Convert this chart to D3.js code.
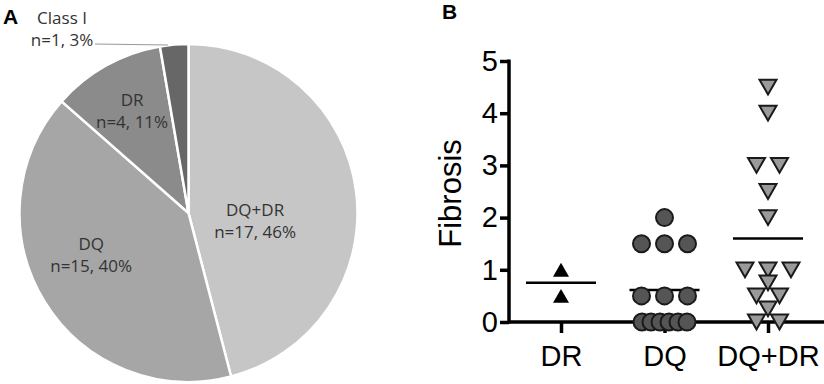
<!DOCTYPE html>
<html lang="en">
<head>
<meta charset="UTF-8">
<title>Fibrosis by DSA class</title>
<style>
  body { margin: 0; background: #fff; }
  svg { display: block; }
  .pie-label { font-family: "Open Sans", sans-serif; font-size: 17px; fill: #333; }
  .panel { font-family: "Liberation Sans", Arial, sans-serif; font-weight: bold; font-size: 21px; }
  .axis text { font-family: "Liberation Sans", Arial, sans-serif; font-size: 29px; fill: #000; }
  .axis path, .axis line { stroke: #000; stroke-width: 3.5; }
</style>
</head>
<body>
<svg></svg>
<script src="https://cdn.jsdelivr.net/npm/d3@7"></script>
<script>

// ---- panel A data
const pieNames = ["DQ+DR", "DQ", "DR", "Class I"];
const pieCounts = [17, 15, 4, 1];
const piePct = ["46%", "40%", "11%", "3%"];
const pieColors = ["#c6c6c6", "#a6a6a6", "#8b8b8b", "#676767"];

// ---- panel B data
const groups = ["DR", "DQ", "DQ+DR"];
const fibDR = [1, 0.5];
const fibDQ = [2, 1.5, 1.5, 1.5, 0.5, 0.5, 0.5, 0, 0, 0, 0, 0, 0];
const fibDQDR = [4.5, 4, 3, 3, 2.5, 2, 1, 1, 1, 0.75, 0.5, 0.5, 0.25, 0, 0];
const yTicks = [0, 1, 2, 3, 4, 5];

const W = 824, H = 384;
const svg = d3.select("svg").attr("width", W).attr("height", H);

// ---------------- A: pie
svg.append("text").attr("class", "panel").attr("x", 3).attr("y", 24).text("A");

const cx = 188.5, cy = 213, R = 169;
const pie = d3.pie().sort(null).value(d => d)(pieCounts);
const arc = d3.arc().innerRadius(0).outerRadius(R);
const gp = svg.append("g").attr("transform", `translate(${cx},${cy})`);

gp.selectAll("path")
  .data(pie)
  .enter().append("path")
    .attr("d", arc)
    .attr("fill", (d, i) => pieColors[i])
    .attr("stroke", "#fff")
    .attr("stroke-width", 2.5);

// label placement (inside slices, Class I sits outside with a leader)
const labelArc = d3.arc().innerRadius(R * 0.6).outerRadius(R * 0.6);
const nudge = {
  "DQ+DR": [-34, 16],
  "DQ": [-11, -16],
  "DR": [-7, -18],
};
pie.forEach((p, i) => {
  const name = pieNames[i];
  let x, y;
  if (nudge[name]) {
    const c = labelArc.centroid(p);
    x = c[0] + nudge[name][0];
    y = c[1] + nudge[name][1];
  } else {
    // outside label with a leader line to the thin slice
    const edge = d3.arc().innerRadius(R).outerRadius(R).startAngle(p.startAngle).endAngle(p.startAngle).centroid();
    x = 62 - cx;
    y = 24 - cy;
    gp.append("line")
      .attr("x1", 95 - cx).attr("y1", 44 - cy)
      .attr("x2", edge[0] + 8).attr("y2", 45 - cy)
      .attr("stroke", "#999").attr("stroke-width", 1.2);
  }
  const t = gp.append("text").attr("class", "pie-label").attr("text-anchor", "middle");
  t.append("tspan").attr("x", x).attr("y", y).text(name);
  t.append("tspan").attr("x", x).attr("y", y + 22).text(`n=${pieCounts[i]}, ${piePct[i]}`);
});

// ---------------- B: scatter
svg.append("text").attr("class", "panel").attr("x", 442).attr("y", 19).text("B");

const y = d3.scaleLinear().domain([0, 5]).range([322, 61]);
const x = d3.scalePoint().domain(groups).range([561, 768]);

const gy = svg.append("g").attr("class", "axis")
  .attr("transform", "translate(509,0)")
  .call(d3.axisLeft(y).tickValues(yTicks).tickFormat(d3.format("d"))
    .tickSize(9).tickSizeOuter(0).tickPadding(2));
gy.select(".domain").attr("d", `M0,${y(5) - 1.5}V${y(0) + 1.5}`);

const gx = svg.append("g").attr("class", "axis")
  .attr("transform", "translate(0,322)")
  .call(d3.axisBottom(x).tickSize(11).tickSizeOuter(0).tickPadding(12));
gx.select(".domain").attr("d", `M509,0H${W}`);
gx.selectAll(".tick text").attr("font-size", 30);

svg.append("text")
  .attr("transform", `translate(461,${(y(0) + y(5)) / 2 + 2}) rotate(-90)`)
  .attr("text-anchor", "middle")
  .attr("font-family", "Liberation Sans, Arial, sans-serif")
  .attr("font-size", 31)
  .text("Fibrosis");

// spread tied values side by side
function spread(vals, group) {
  const counts = d3.rollup(vals, v => v.length, v => v);
  const seen = new Map();
  return vals.map(v => {
    const n = counts.get(v), k = seen.get(v) || 0;
    seen.set(v, k + 1);
    const step = n > 3 ? 9 : 23;
    const off = n === 2 ? (k - 0.5) * step : (k - (n - 1) / 2) * step;
    return { v, px: x(group) + off, py: y(v) };
  });
}

function tri(s, down) {
  const h = s * 0.87;
  return down
    ? `M${-s / 2},${-h / 2}L${s / 2},${-h / 2}L0,${h / 2}Z`
    : `M${-s / 2},${h / 2}L${s / 2},${h / 2}L0,${-h / 2}Z`;
}

const series = [
  { g: "DR", vals: fibDR },
  { g: "DQ", vals: fibDQ },
  { g: "DQ+DR", vals: fibDQDR },
];

// mean lines
series.forEach(s => {
  const m = d3.mean(s.vals);
  svg.append("line")
    .attr("x1", x(s.g) - 35).attr("x2", x(s.g) + 35)
    .attr("y1", y(m)).attr("y2", y(m))
    .attr("stroke", "#000").attr("stroke-width", 2.5);
});

svg.selectAll(".pt-dr")
  .data(spread(fibDR, "DR"))
  .enter().append("path")
    .attr("transform", d => `translate(${d.px},${d.py})`)
    .attr("d", tri(16, false))
    .attr("fill", "#000");

svg.selectAll(".pt-dq")
  .data(spread(fibDQ, "DQ"))
  .enter().append("circle")
    .attr("cx", d => d.px).attr("cy", d => d.py)
    .attr("r", 8.5)
    .attr("fill", "#555").attr("stroke", "#1a1a1a").attr("stroke-width", 2);

svg.selectAll(".pt-dqdr")
  .data(spread(fibDQDR, "DQ+DR"))
  .enter().append("path")
    .attr("transform", d => `translate(${d.px},${d.py})`)
    .attr("d", tri(17, true))
    .attr("fill", "#9a9a9a").attr("stroke", "#1a1a1a").attr("stroke-width", 2);

</script>
</body>
</html>
